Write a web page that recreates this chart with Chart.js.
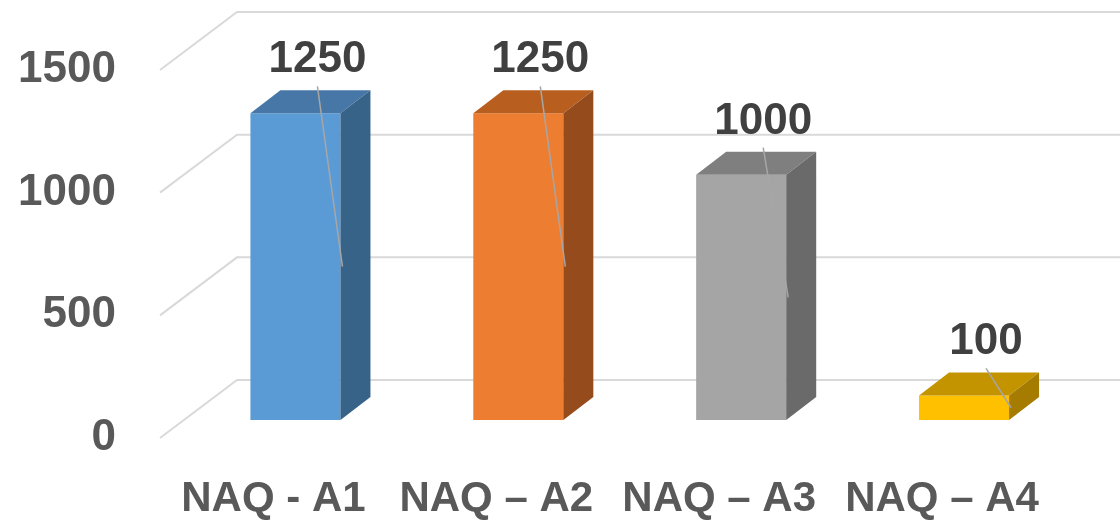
<!DOCTYPE html>
<html>
<head>
<meta charset="utf-8">
<script src="https://cdn.jsdelivr.net/npm/chart.js@4/dist/chart.umd.min.js"></script>
<style>
  html, body { margin: 0; padding: 0; background: #fff; }
  #wrap { width: 1120px; height: 524px; position: relative; }
</style>
</head>
<body>
<div id="wrap"><canvas id="chart"></canvas></div>
<script>
"use strict";

// chart data
var categories = ['NAQ - A1', 'NAQ \u2013 A2', 'NAQ \u2013 A3', 'NAQ \u2013 A4'];
var values = [1250, 1250, 1000, 100];
var yTicks = [0, 500, 1000, 1500];

// face colours (front / top / side)
var frontColors = ['#5b9bd5', '#ed7d31', '#a5a5a5', '#ffc000'];
var topColors = ['#4677a6', '#b85f1f', '#7f7f7f', '#c49400'];
var sideColors = ['#386389', '#964b1d', '#6a6a6a', '#a57c00'];

var FONT = '"Liberation Sans", Arial, sans-serif';

// depth of the columns and of the floor/walls
var BAR_DX = 30, BAR_DY = -23;
var FRONT_DX = -24, FRONT_DY = 18;
var BACK_DX = 53, BACK_DY = -40;

var depthPlugin = {
    id: 'depth',
    beforeDatasetsDraw: function(chart) {
        var ctx = chart.ctx;
        var y = chart.scales.y;
        var left = chart.chartArea.left;
        ctx.save();
        ctx.strokeStyle = '#d9d9d9';
        ctx.lineWidth = 2;
        yTicks.forEach(function(v) {
            var py = y.getPixelForValue(v);
            ctx.beginPath();
            ctx.moveTo(left + FRONT_DX, py + FRONT_DY);
            ctx.lineTo(left + BACK_DX, py + BACK_DY);
            ctx.lineTo(chart.width, py + BACK_DY);
            ctx.stroke();
        });
        ctx.restore();
    },
    afterDatasetsDraw: function(chart) {
        var ctx = chart.ctx;
        var meta = chart.getDatasetMeta(0);
        ctx.save();
        meta.data.forEach(function(bar, i) {
            var half = bar.width / 2;
            var l = bar.x - half, r = bar.x + half;
            var t = bar.y, b = bar.base;
            // top face
            ctx.fillStyle = topColors[i];
            ctx.beginPath();
            ctx.moveTo(l, t);
            ctx.lineTo(l + BAR_DX, t + BAR_DY);
            ctx.lineTo(r + BAR_DX, t + BAR_DY);
            ctx.lineTo(r, t);
            ctx.closePath();
            ctx.fill();
            // side face
            ctx.fillStyle = sideColors[i];
            ctx.beginPath();
            ctx.moveTo(r, t);
            ctx.lineTo(r + BAR_DX, t + BAR_DY);
            ctx.lineTo(r + BAR_DX, b + BAR_DY);
            ctx.lineTo(r, b);
            ctx.closePath();
            ctx.fill();

            // leader line and value label
            var lx = bar.x + 22;
            var backTop = t + BAR_DY;
            ctx.strokeStyle = '#a6a6a6';
            ctx.lineWidth = 1.5;
            ctx.beginPath();
            ctx.moveTo(lx, backTop - 4);
            ctx.lineTo(r + 2, (t + b) / 2);
            ctx.stroke();

            ctx.fillStyle = '#404040';
            ctx.font = 'bold 44px ' + FONT;
            ctx.textAlign = 'center';
            ctx.textBaseline = 'alphabetic';
            ctx.fillText(String(values[i]), lx, backTop - 18);
        });
        ctx.restore();
    }
};

new Chart(document.getElementById('chart'), {
    type: 'bar',
    data: {
        labels: categories,
        datasets: [{
            data: values,
            backgroundColor: frontColors,
            borderWidth: 0,
            barPercentage: 0.404,
            categoryPercentage: 1
        }]
    },
    options: {
        responsive: true,
        maintainAspectRatio: false,
        animation: false,
        events: [],
        layout: { padding: { top: 52, right: 44.5, left: 0, bottom: 0 } },
        plugins: {
            legend: { display: false },
            tooltip: { enabled: false }
        },
        scales: {
            x: {
                grid: { display: false, drawTicks: false },
                border: { display: false },
                ticks: {
                    color: '#595959',
                    font: { family: FONT, size: 42, weight: 'bold' },
                    padding: 54,
                    labelOffset: -22,
                    maxRotation: 0,
                    autoSkip: false
                },
                afterFit: function(scale) {
                    scale.height = 104;
                    scale.paddingLeft = 0;
                    scale.paddingRight = 0;
                }
            },
            y: {
                min: 0,
                max: 1500,
                grid: { display: false, drawTicks: false },
                border: { display: false },
                afterBuildTicks: function(scale) {
                    scale.ticks = yTicks.map(function(v) { return { value: v }; });
                },
                ticks: {
                    color: '#595959',
                    font: { family: FONT, size: 44, weight: 'bold' },
                    padding: 68,
                    labelOffset: 18,
                    callback: function(v) { return String(v); }
                },
                afterFit: function(scale) {
                    scale.width = 184;
                    scale.paddingTop = 0;
                    scale.paddingBottom = 0;
                }
            }
        }
    },
    plugins: [depthPlugin]
});
</script>
</body>
</html>
